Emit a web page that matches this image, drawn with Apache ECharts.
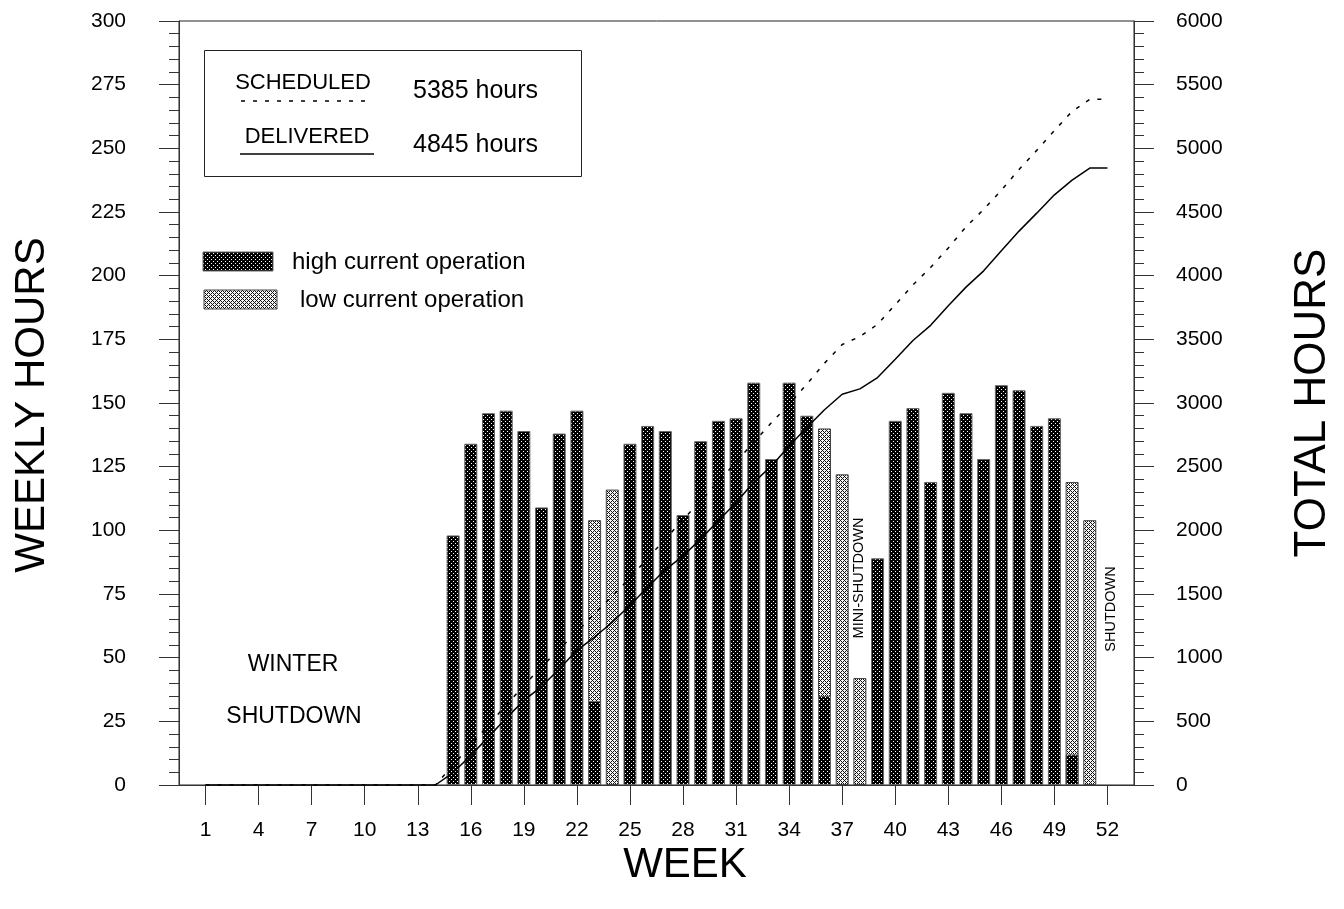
<!DOCTYPE html>
<html><head><meta charset="utf-8">
<script src="https://cdn.jsdelivr.net/npm/echarts@6/dist/echarts.min.js"></script>
<style>html,body{margin:0;padding:0;background:#fff}#c{width:1344px;height:909px}</style>
</head><body><div id="c"></div>
<script>
// ---- data ----
const weeks = [1,2,3,4,5,6,7,8,9,10,11,12,13,14,15,16,17,18,19,20,21,22,23,24,25,26,27,28,29,30,31,32,33,34,35,36,37,38,39,40,41,42,43,44,45,46,47,48,49,50,51,52];
// high current hours per week
const highCurrent = [null,null,null,null,null,null,null,null,null,null,null,null,null,null,
  98,134,146,147,139,109,138,147,33,null,134,141,139,106,135,143,144,158,128,158,145,35,null,null,89,143,148,119,154,146,128,157,155,141,144,12,null,null];
// weekly total (top of bar) for weeks with low current operation
const lowCurrentTop = [null,null,null,null,null,null,null,null,null,null,null,null,null,null,
  null,null,null,null,null,null,null,null,104,116,null,null,null,null,null,null,null,null,null,null,null,140,122,42,null,null,null,null,null,null,null,null,null,null,null,119,104,null];
const delivered = [0,0,0,0,0,0,0,0,0,0,0,0,0,0,
  98,232,378,525,664,773,911,1058,1162,1278,1412,1553,1692,1798,1933,2075,2219,2377,2505,2663,2807,2947,3069,3111,3200,3343,3491,3610,3764,3910,4038,4195,4350,4491,4635,4750,4845,4845];
const scheduled = [0,0,0,0,0,0,0,0,0,0,0,0,0,0,
  157,314,471,628,781,928,1066,1205,1344,1483,1627,1780,1933,2083,2233,2383,2536,2693,2845,2991,3148,3313,3459,3522,3618,3772,3927,4065,4218,4383,4520,4671,4834,4984,5140,5290,5385,5385];
const weekTicks = [1,4,7,10,13,16,19,22,25,28,31,34,37,40,43,46,49,52];
const scheduledTotal = '5385 hours';
const deliveredTotal = '4845 hours';

// ---- patterns ----
function makePattern(bg, fg, pts) {
  const c = document.createElement('canvas'); c.width = 4; c.height = 4;
  const g = c.getContext('2d'); g.fillStyle = bg; g.fillRect(0,0,4,4);
  g.fillStyle = fg; pts.forEach(p => g.fillRect(p[0], p[1], 1, 1));
  return c;
}
const highCanvas = makePattern('#000', '#fff', [[1,1],[3,3]]);
const lowCanvas = makePattern('#f6f6f6', '#111', [[0,0],[1,1],[2,2],[3,3],[1,3],[3,1]]);
const highFill = {image: highCanvas, repeat: 'repeat'};
const lowFill = {image: lowCanvas, repeat: 'repeat'};

const FONT = 'Liberation Sans, Arial, Helvetica, sans-serif';
const chart = echarts.init(document.getElementById('c'), null, {renderer: 'canvas'});
const axisColor = '#333';

chart.setOption({
  animation: false,
  backgroundColor: '#fff',
  grid: {left: 179, right: 210, top: 21, bottom: 124, show: true, borderColor: '#222', borderWidth: 1, backgroundColor: 'transparent'},
  xAxis: {
    type: 'value', min: -0.5, max: 53.5,
    axisLine: {show: true, onZero: false, lineStyle: {color: axisColor}},
    axisTick: {show: true, length: 20, lineStyle: {color: axisColor}, customValues: weekTicks},
    axisLabel: {customValues: weekTicks, margin: 35, fontSize: 21, color: '#000', fontFamily: FONT},
    splitLine: {show: false}
  },
  yAxis: [
    {type: 'value', min: 0, max: 300, interval: 25, position: 'left',
     axisLine: {show: true, onZero: false, lineStyle: {color: axisColor}},
     axisTick: {show: true, length: 20, lineStyle: {color: axisColor}},
     minorTick: {show: true, splitNumber: 5, length: 10, lineStyle: {color: axisColor}},
     axisLabel: {margin: 53, fontSize: 21, color: '#000', fontFamily: FONT},
     splitLine: {show: false}},
    {type: 'value', min: 0, max: 6000, interval: 500, position: 'right',
     axisLine: {show: true, onZero: false, lineStyle: {color: axisColor}},
     axisTick: {show: true, length: 20, lineStyle: {color: axisColor}},
     minorTick: {show: true, splitNumber: 5, length: 10, lineStyle: {color: axisColor}},
     axisLabel: {margin: 42, fontSize: 21, color: '#000', fontFamily: FONT, formatter: v => String(v)},
     splitLine: {show: false}}
  ],
  series: [
    {name: 'low current operation', type: 'bar', yAxisIndex: 0, barWidth: 13, barGap: '-100%', z: 2,
     itemStyle: {color: lowFill, borderColor: '#444', borderWidth: 1},
     data: weeks.map((w, i) => [w, lowCurrentTop[i]])},
    {name: 'high current operation', type: 'bar', yAxisIndex: 0, barWidth: 13, barGap: '-100%', z: 3,
     itemStyle: {color: highFill, borderColor: '#666', borderWidth: 1},
     data: weeks.map((w, i) => [w, highCurrent[i]])},
    {name: 'SCHEDULED', type: 'line', yAxisIndex: 1, showSymbol: false, z: 5,
     lineStyle: {color: '#000', width: 1.5, type: [4, 8]},
     data: weeks.map((w, i) => [w, scheduled[i]])},
    {name: 'DELIVERED', type: 'line', yAxisIndex: 1, showSymbol: false, z: 5,
     lineStyle: {color: '#000', width: 1.5},
     data: weeks.map((w, i) => [w, delivered[i]])}
  ],
  graphic: [
    {type: 'rect', shape: {x: 204.5, y: 50.5, width: 377, height: 126}, style: {fill: '#fff', stroke: '#222', lineWidth: 1}, z: 10},
    {type: 'text', x: 303, y: 83, z: 11, style: {text: 'SCHEDULED', font: '22px ' + FONT, fill: '#000', textAlign: 'center', textVerticalAlign: 'middle'}},
    {type: 'line', shape: {x1: 241, y1: 101, x2: 373, y2: 101}, style: {stroke: '#000', lineWidth: 1.5, lineDash: [4, 8]}, z: 11},
    {type: 'text', x: 413, y: 91, z: 11, style: {text: scheduledTotal, font: '25px ' + FONT, fill: '#000', textAlign: 'left', textVerticalAlign: 'middle'}},
    {type: 'text', x: 307, y: 137, z: 11, style: {text: 'DELIVERED', font: '22px ' + FONT, fill: '#000', textAlign: 'center', textVerticalAlign: 'middle'}},
    {type: 'line', shape: {x1: 240, y1: 154, x2: 374, y2: 154}, style: {stroke: '#000', lineWidth: 1.5}, z: 11},
    {type: 'text', x: 413, y: 145, z: 11, style: {text: deliveredTotal, font: '25px ' + FONT, fill: '#000', textAlign: 'left', textVerticalAlign: 'middle'}},
    {type: 'rect', shape: {x: 203, y: 252, width: 70, height: 19}, style: {fill: highFill, stroke: '#666', lineWidth: 1}, z: 11},
    {type: 'text', x: 292, y: 262, z: 11, style: {text: 'high current operation', font: '24px ' + FONT, fill: '#000', textAlign: 'left', textVerticalAlign: 'middle'}},
    {type: 'rect', shape: {x: 204, y: 290, width: 73, height: 19}, style: {fill: lowFill, stroke: '#444', lineWidth: 1}, z: 11},
    {type: 'text', x: 300, y: 300, z: 11, style: {text: 'low current operation', font: '24px ' + FONT, fill: '#000', textAlign: 'left', textVerticalAlign: 'middle'}},
    {type: 'text', x: 293, y: 665, z: 11, style: {text: 'WINTER', font: '23px ' + FONT, fill: '#000', textAlign: 'center', textVerticalAlign: 'middle'}},
    {type: 'text', x: 294, y: 717, z: 11, style: {text: 'SHUTDOWN', font: '23px ' + FONT, fill: '#000', textAlign: 'center', textVerticalAlign: 'middle'}},
    {type: 'text', x: 859, y: 578, rotation: Math.PI / 2, z: 11, style: {text: 'MINI-SHUTDOWN', font: '14.5px ' + FONT, fill: '#000', textAlign: 'center', textVerticalAlign: 'middle'}},
    {type: 'text', x: 1111, y: 609, rotation: Math.PI / 2, z: 11, style: {text: 'SHUTDOWN', font: '14.5px ' + FONT, fill: '#000', textAlign: 'center', textVerticalAlign: 'middle'}},
    {type: 'text', x: 32, y: 405, rotation: Math.PI / 2, z: 11, style: {text: 'WEEKLY HOURS', font: '42px ' + FONT, fill: '#000', textAlign: 'center', textVerticalAlign: 'middle'}},
    {type: 'text', x: 1313, y: 403, rotation: Math.PI / 2, z: 11, style: {text: 'TOTAL HOURS', font: '44px ' + FONT, fill: '#000', textAlign: 'center', textVerticalAlign: 'middle'}},
    {type: 'text', x: 685, y: 865, z: 11, style: {text: 'WEEK', font: '42px ' + FONT, fill: '#000', textAlign: 'center', textVerticalAlign: 'middle'}}
  ]
});
</script></body></html>
